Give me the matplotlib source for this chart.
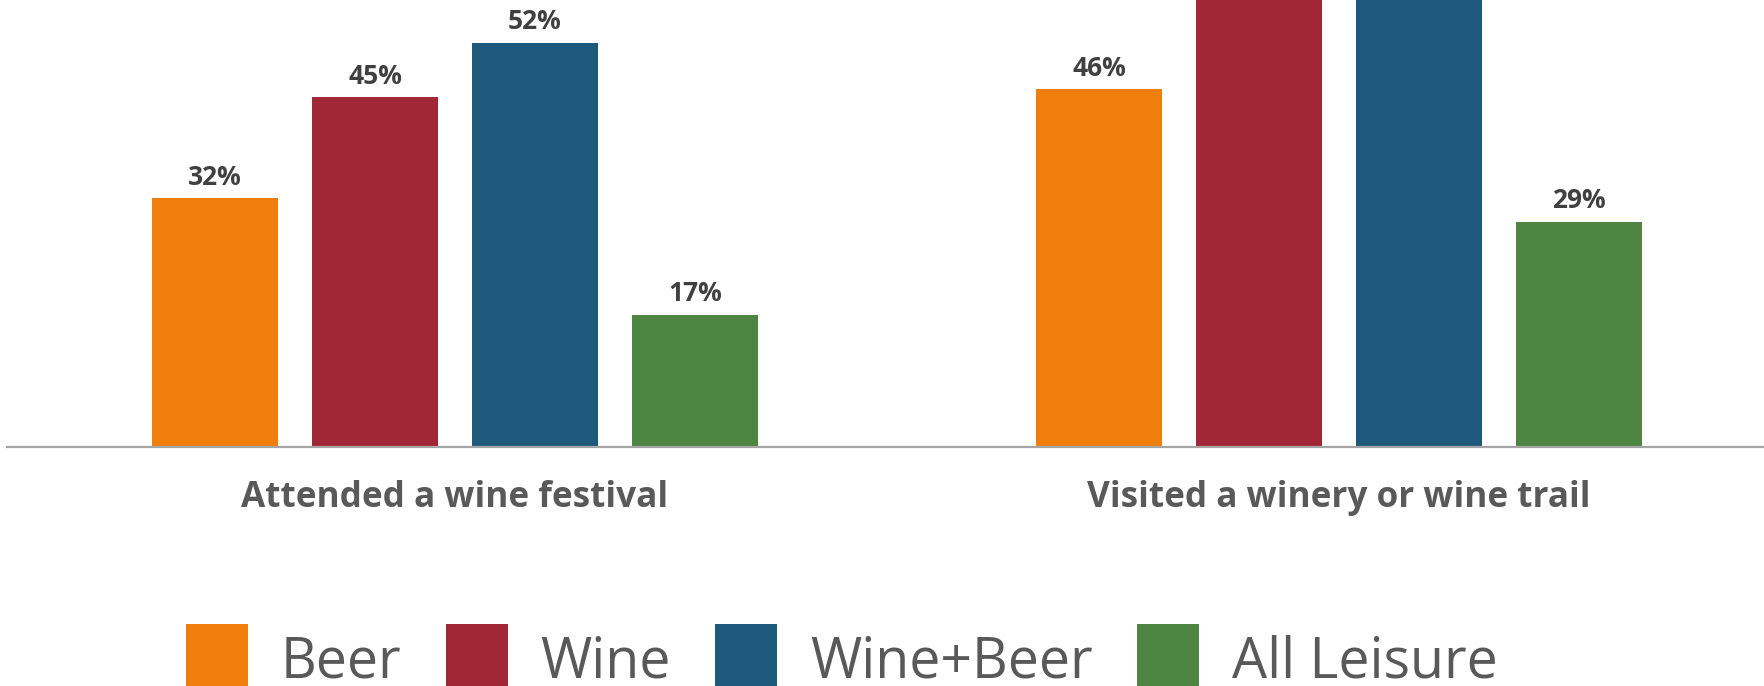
import matplotlib
matplotlib.use("Agg")
import matplotlib.pyplot as plt
from matplotlib.patches import Rectangle
import numpy as np

# Data
categories = ["Attended a wine festival", "Visited a winery or wine trail"]
series_names = ["Beer", "Wine", "Wine+Beer", "All Leisure"]
beer = [32, 46]
wine = [45, 63]
wine_beer = [52, 66]
all_leisure = [17, 29]
series_values = [beer, wine, wine_beer, all_leisure]
colors = ["#EF7F0A", "#A12737", "#1E587B", "#4F8542"]

W, H, DPI = 1765, 686, 100
fig = plt.figure(figsize=(W / DPI, H / DPI), dpi=DPI)
fig.patch.set_facecolor("white")

base_px = 447
ax = fig.add_axes([7 / W, (H - base_px) / H, 1 - 7 / W, base_px / H])

x = np.arange(len(categories))
pitch = 0.181
width = 0.143
for i, (name, vals, col) in enumerate(zip(series_names, series_values, colors)):
    pos = x + (i - 1.5) * pitch
    bars = ax.bar(pos, vals, width=width, color=col, label=name, zorder=2)
    for b, v in zip(bars, vals):
        ax.annotate(f"{v}%", (b.get_x() + b.get_width() / 2, v),
                    xytext=(0, 5.5), textcoords="offset points",
                    ha="center", va="bottom", fontsize=19,
                    fontweight="bold", family="Open Sans", color="#404040",
                    annotation_clip=True, clip_on=True)

ax.set_xlim(-0.5068, 1.4819)
ax.set_ylim(0, 57.5)
ax.set_yticks([])
for s in ("left", "right", "top"):
    ax.spines[s].set_visible(False)
ax.spines["bottom"].set_color("#A5A5A5")
ax.spines["bottom"].set_linewidth(1.6)
ax.spines["bottom"].set_zorder(3)
ax.set_xticks(x)
ax.set_xticklabels(categories, fontsize=25.3, fontweight="bold",
                   family="Open Sans", color="#595959")
ax.tick_params(axis="x", length=0, pad=24)

# Legend drawn along the bottom edge
renderer = fig.canvas.get_renderer()
cur = 186
sq = 62
for name, col in zip(series_names, colors):
    fig.add_artist(Rectangle((cur / W, -12 / H), sq / W, (sq + 12) / H,
                             transform=fig.transFigure, color=col, lw=0))
    tx = cur + sq + 33
    t = fig.text(tx / W, (H - 677) / H, name, fontsize=40, family="Open Sans",
                 color="#595959", ha="left", va="baseline")
    ext = t.get_window_extent(renderer)
    cur = ext.x1 + 44

fig.savefig("out.png", dpi=DPI, facecolor="white")
